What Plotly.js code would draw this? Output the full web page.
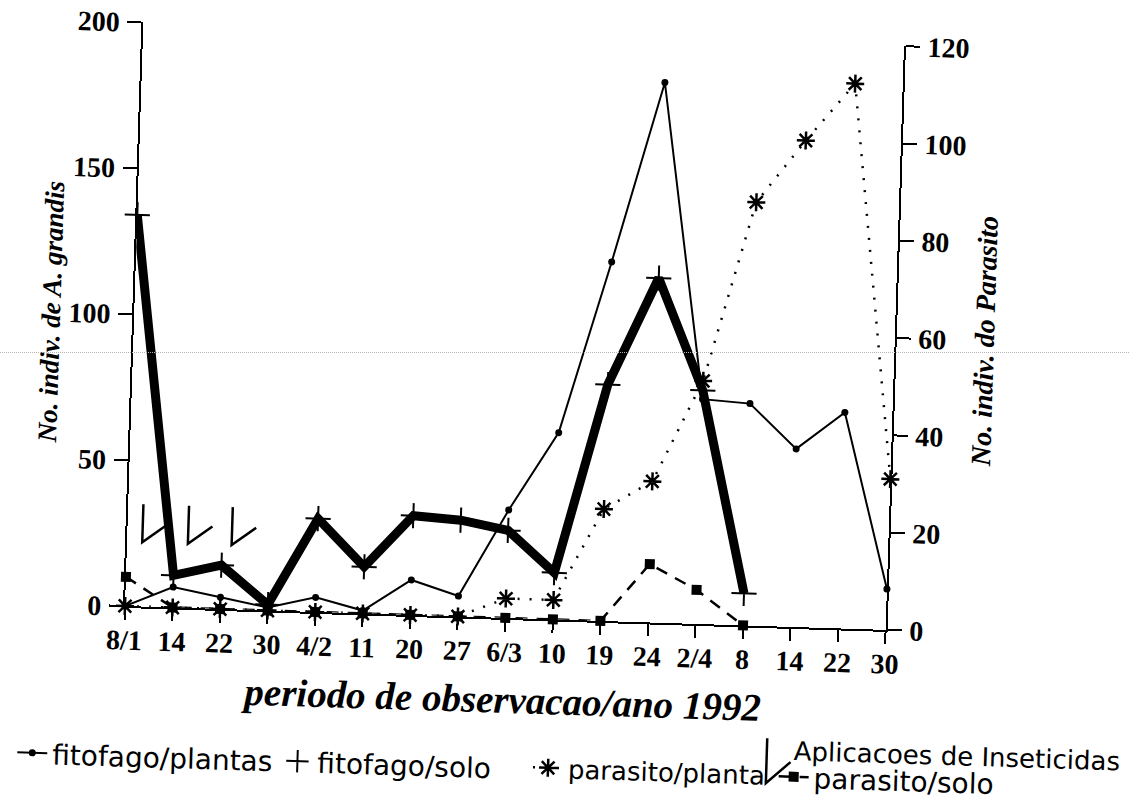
<!DOCTYPE html>
<html>
<head>
<meta charset="utf-8">
<script src="https://cdn.plot.ly/plotly-3.0.1.min.js"></script>
<style>
  html, body { margin: 0; padding: 0; background: #fff; overflow: hidden; }
  #wrap { position: relative; width: 1129px; height: 809px; overflow: hidden; }
  /* the printed figure sits slightly askew on the page */
  #chart { position: absolute; left: 0; top: 0; width: 1129px; height: 809px;
           transform: rotate(1.8deg); transform-origin: 125px 606px; }
  #rule { position: absolute; left: 0; top: 352px; width: 1129px; height: 0;
          border-top: 1px dotted #b4b4b4; }
</style>
</head>
<body>
<div id="wrap"><div id="chart"></div><div id="rule"></div></div>
<script>
// Observation dates, 1992 (day/month)
const dates = ['8/1', '14/1', '22/1', '30/1', '4/2', '11/2', '20/2', '27/2', '6/3',
               '10/3', '19/3', '24/3', '2/4', '8/4', '14/4', '22/4', '30/4'];
const tickLabels = ['8/1', '14', '22', '30', '4/2', '11', '20', '27', '6/3',
                    '10', '19', '24', '2/4', '8', '14', '22', '30'];

// A. grandis counts (left axis)
const fitofagoPlantas = [0, 7, 4, 1, 5, 1, 12, 7, 37, 64, 123, 185, 77, 76, 61, 74, 14];
const fitofagoSolo    = [134, 11, 15, 2, 32, 16, 34, 33, 30, 16, 81, 118, 80, 11, null, null, null];

// Parasite counts (right axis)
const parasitoPlanta  = [0, 0, 0, 0, 0, 0, 0, 0, 4, 4, 23, 29, 50, 87, 100, 112, 31];
const parasitoSolo    = [6, 0, 0, 0, 0, 0, 0, 0, 0, 0, 0, 12, 7, 0, null, null, null];

// Insecticide applications, as positions along the date axis
const insecticideApplications = [0.32, 1.28, 2.2];

const serif = 'Liberation Serif, Times New Roman, serif';
const sans = 'DejaVu Sans, Arial, sans-serif';
const black = '#000';

const traces = [
  {
    name: 'fitofago/plantas', x: dates, y: fitofagoPlantas, yaxis: 'y', legend: 'legend',
    mode: 'lines+markers', cliponaxis: false,
    line: { color: black, width: 2 },
    marker: { symbol: 'circle', size: 7, color: black }
  },
  {
    name: 'fitofago/solo', x: dates, y: fitofagoSolo, yaxis: 'y',
    mode: 'lines', showlegend: false, cliponaxis: false,
    line: { color: black, width: 9 }
  },
  {
    name: 'fitofago/solo', x: dates, y: fitofagoSolo, yaxis: 'y', legend: 'legend',
    mode: 'markers', cliponaxis: false,
    marker: { symbol: 'cross-thin', size: 18, color: black, line: { color: black, width: 2 } }
  },
  {
    name: 'parasito/planta', x: dates, y: parasitoPlanta, yaxis: 'y2', legend: 'legend2',
    mode: 'lines+markers', cliponaxis: false,
    line: { color: black, width: 2.5, dash: '2px,10px' },
    marker: { symbol: 'asterisk', size: 15, color: black, line: { color: black, width: 2.5 } }
  },
  {
    name: 'parasito/solo', x: dates, y: parasitoSolo, yaxis: 'y2', legend: 'legend3',
    mode: 'lines+markers', cliponaxis: false,
    line: { color: black, width: 2.5, dash: '12px,9px' },
    marker: { symbol: 'square', size: 10, color: black }
  }
];

// check-mark glyph used for insecticide applications (pixel units)
const glyphPath = 'M0,38 L0,0 L24,18';
const shapes = insecticideApplications.map(pos => ({
  type: 'path', xref: 'x', yref: 'y',
  xsizemode: 'pixel', ysizemode: 'pixel',
  xanchor: pos, yanchor: 22,
  path: glyphPath,
  line: { color: black, width: 2.5 }
}));
// same glyph as the key entry below the chart
shapes.push({
  type: 'path', xref: 'paper', yref: 'paper',
  xsizemode: 'pixel', ysizemode: 'pixel',
  xanchor: 0.849, yanchor: -0.269,
  path: 'M0,45 L0,0 L24,22',
  line: { color: black, width: 2.5 }
});

const legendBase = {
  orientation: 'h', xanchor: 'left', y: -0.214, yanchor: 'top',
  font: { family: sans, size: 28, color: black },
  bgcolor: 'rgba(0,0,0,0)', itemwidth: 30
};

const layout = {
  width: 1129, height: 809,
  margin: { l: 125, r: 243, t: 22, b: 203 },
  paper_bgcolor: '#fff', plot_bgcolor: 'rgba(0,0,0,0)',
  showlegend: true,
  xaxis: {
    type: 'category', categoryorder: 'array', categoryarray: dates,
    range: [0, 16], tickmode: 'array', tickvals: dates, ticktext: tickLabels,
    showline: true, linecolor: black, linewidth: 2,
    ticks: 'outside', ticklen: 12, tickwidth: 2, tickcolor: black,
    showgrid: false, zeroline: false,
    tickfont: { family: serif, size: 28, color: black, weight: 'bold' },
    ticklabelstandoff: -4,
    title: { text: 'periodo de observacao/ano 1992', standoff: 19,
             font: { family: serif, size: 39, color: black, weight: 'bold', style: 'italic' } }
  },
  yaxis: {
    range: [0, 200], tickvals: [0, 50, 100, 150, 200],
    showline: true, linecolor: black, linewidth: 2,
    ticks: 'outside', ticklen: 14, tickwidth: 2, tickcolor: black,
    showgrid: false, zeroline: false,
    tickfont: { family: serif, size: 28, color: black, weight: 'bold' },
    ticklabelstandoff: 2,
    title: { text: 'No. indiv. de A. grandis', standoff: 0,
             font: { family: serif, size: 27, color: black, weight: 'bold', style: 'italic' } }
  },
  yaxis2: {
    overlaying: 'y', side: 'right', anchor: 'x',
    range: [0, 120], tickvals: [0, 20, 40, 60, 80, 100, 120],
    showline: true, linecolor: black, linewidth: 2,
    ticks: 'outside', ticklen: 14, tickwidth: 2, tickcolor: black,
    showgrid: false, zeroline: false,
    tickfont: { family: serif, size: 28, color: black, weight: 'bold' },
    ticklabelstandoff: 2,
    title: { text: 'No. indiv. do Parasito', standoff: 15,
             font: { family: serif, size: 28, color: black, weight: 'bold', style: 'italic' } }
  },
  legend: Object.assign({}, legendBase, { x: -0.142 }),
  legend2: Object.assign({}, legendBase, { x: 0.536, font: { family: sans, size: 26, color: black } }),
  legend3: Object.assign({}, legendBase, { x: 0.859 }),
  shapes: shapes,
  annotations: [{
    text: 'Aplicacoes de Inseticidas', xref: 'paper', yref: 'paper',
    x: 0.882, y: -0.212, xanchor: 'left', yanchor: 'middle', showarrow: false,
    font: { family: sans, size: 26, color: black }
  }]
};

Plotly.newPlot('chart', traces, layout, { displayModeBar: false, staticPlot: true });
</script>
</body>
</html>
